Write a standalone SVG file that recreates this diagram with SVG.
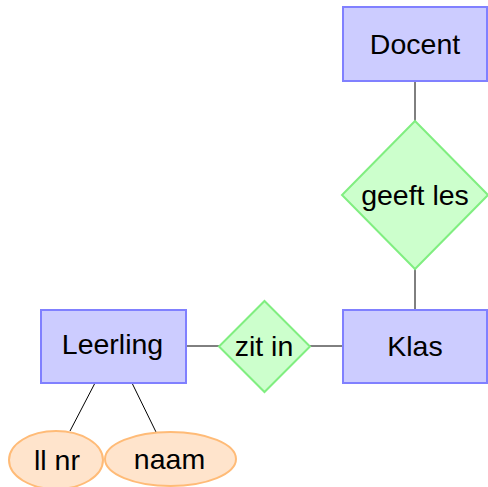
<svg xmlns="http://www.w3.org/2000/svg" width="488" height="487" viewBox="0 0 488 487">
<style>
.ent{fill:#ccccff;stroke:#8080ff;stroke-width:2}
.rel{fill:#ccffcc;stroke:#80ee80;stroke-width:2}
.att{fill:#ffe4cc;stroke:#ffbb77;stroke-width:2}
.lbl{font-family:"Liberation Sans",Arial,sans-serif;font-size:28.5px;fill:#000;text-anchor:middle}
.con{stroke:#000;stroke-width:1;fill:none}
</style>
<rect width="488" height="487" fill="#fff"/>
<g id="connectors">
<line class="con" x1="415" y1="81" x2="415" y2="121"/>
<line class="con" x1="415" y1="269" x2="415" y2="310"/>
<line class="con" x1="186" y1="346" x2="219" y2="346"/>
<line class="con" x1="310" y1="346" x2="343" y2="346"/>
<line class="con" x1="95" y1="383" x2="70" y2="431"/>
<line class="con" x1="132" y1="383" x2="156" y2="432"/>
</g>
<g id="docent">
<rect class="ent" x="343" y="7" width="144" height="74"/>
<text class="lbl" x="415" y="54">Docent</text>
</g>
<g id="geeft-les">
<polygon class="rel" points="415,121 488,195 415,269 342,195"/>
<text class="lbl" x="415" y="205">geeft les</text>
</g>
<g id="klas">
<rect class="ent" x="343" y="310" width="144" height="73"/>
<text class="lbl" x="415" y="356">Klas</text>
</g>
<g id="zit-in">
<polygon class="rel" points="264.5,301 310,346.5 264.5,392 219,346.5"/>
<text class="lbl" x="264" y="356">zit in</text>
</g>
<g id="leerling">
<rect class="ent" x="41" y="310" width="145" height="73"/>
<text class="lbl" x="112.5" y="353.5">Leerling</text>
</g>
<g id="ll-nr">
<ellipse class="att" cx="56" cy="460" rx="47" ry="29"/>
<text class="lbl" x="57" y="470">ll nr</text>
</g>
<g id="naam">
<ellipse class="att" cx="170.5" cy="459" rx="65.5" ry="27"/>
<text class="lbl" x="169.5" y="468.5">naam</text>
</g>
</svg>
